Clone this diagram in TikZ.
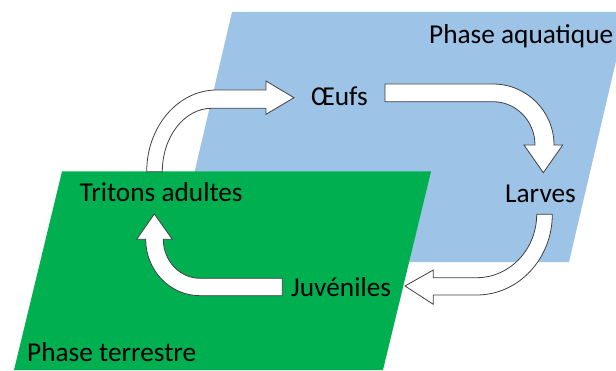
\documentclass[tikz,border=0pt]{standalone}
\usepackage{fontspec}
\setmainfont{Carlito}
\definecolor{aquablue}{HTML}{9DC3E6}
\definecolor{landgreen}{HTML}{00B050}
\definecolor{arrowline}{HTML}{404040}
\tikzset{
  blockarrow/.style={fill=white, draw=arrowline, line width=0.8pt, line join=miter},
  lbl/.style={inner sep=0pt, anchor=base west, font=\fontsize{27.3}{30}\selectfont, text=black}
}
\begin{document}
\begin{tikzpicture}[x=1pt,y=1pt]
\useasboundingbox (0,0) rectangle (616,370);
\clip (0,0) rectangle (616,370);
% phases
\fill[aquablue] (232,358) -- (627.5,358) -- (569,108) -- (173.5,108) -- cycle;
\fill[landgreen] (62,198.5) -- (431,198.5) -- (383,0) -- (14,0) -- cycle;
% labels
\node[lbl] (aqua) at (429,326) {Phase aquatique};
\node[lbl] (terre) at (27,9) {Phase terrestre};
\node[lbl] (oeufs) at (311,264.5) {Œufs};
\node[lbl] (larves) at (505,167) {Larves};
\node[lbl] (adultes) at (79.5,168) {Tritons adultes};
\node[lbl] (juveniles) at (291,74) {Juvéniles};
% arrow: adultes -> oeufs
\draw[blockarrow] (146.7,198.3) arc[start angle=180, end angle=90, x radius=70pt, y radius=81.7pt]
  -- (266,280) -- (266,289) -- (294,272.3) -- (266,255.7) -- (266,261.7) -- (211.7,261.7)
  arc[start angle=90, end angle=180, x radius=49.4pt, y radius=63.4pt] -- cycle;
% arrow: oeufs -> larves
\draw[blockarrow] (385,286) -- (493,286) arc[start angle=90, end angle=0, x radius=61pt, y radius=61pt]
  -- (562.7,225) -- (543.3,197.3) -- (524,225) -- (535,225)
  arc[start angle=0, end angle=90, x radius=42pt, y radius=43.3pt] -- (385,268.3) -- cycle;
% arrow: larves -> juveniles
\draw[blockarrow] (552.3,155.7) arc[start angle=0, end angle=-90, x radius=75.6pt, y radius=80.7pt]
  -- (433.3,75) -- (433.3,65.7) -- (405,84) -- (433.3,100) -- (433.3,92.3) -- (476.7,92.3)
  arc[start angle=-90, end angle=0, x radius=60pt, y radius=63.4pt] -- cycle;
% arrow: juveniles -> adultes
\draw[blockarrow] (282.3,74.3) -- (200,74.3) arc[start angle=-90, end angle=-180, x radius=54.3pt, y radius=56.4pt]
  -- (136.7,130.7) -- (154.3,156) -- (172.3,130.7) -- (163.3,130.7)
  arc[start angle=180, end angle=270, x radius=36.7pt, y radius=39pt] -- (282.3,91.7) -- cycle;
\end{tikzpicture}
\end{document}
